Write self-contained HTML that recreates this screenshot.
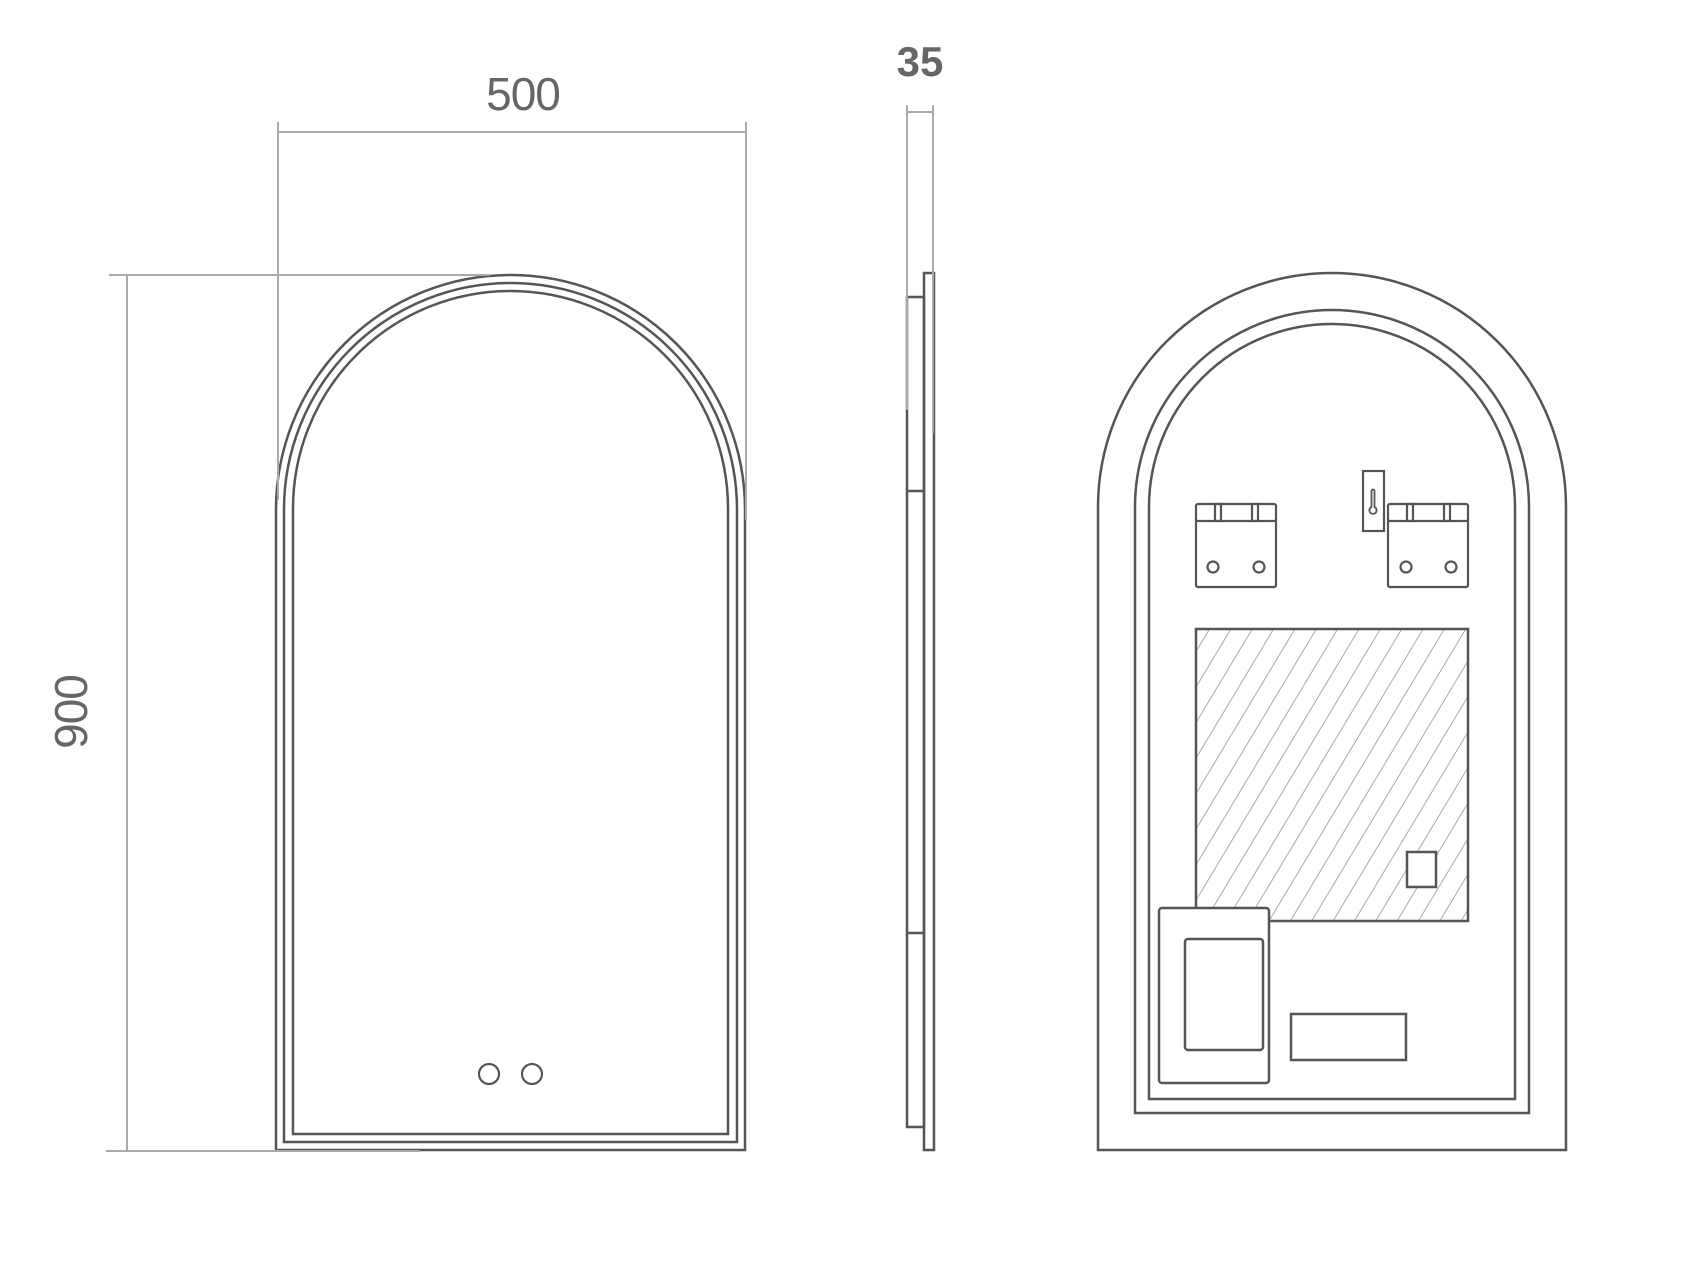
<!DOCTYPE html>
<html><head><meta charset="utf-8"><style>html,body{margin:0;padding:0;background:#fff}svg{display:block}</style></head>
<body>
<svg width="1702" height="1270" viewBox="0 0 1702 1270" xmlns="http://www.w3.org/2000/svg">
<defs>
<pattern id="h" patternUnits="userSpaceOnUse" width="18.3" height="20" patternTransform="translate(1209,629) rotate(31)">
<line x1="0" y1="-5" x2="0" y2="25" stroke="#aaa" stroke-width="2"/>
</pattern>
</defs>
<g fill="none" stroke="#555" stroke-width="2.5">
<path d="M276 1150 V509.5 A234.5 234.5 0 0 1 745 509.5 V1150 Z"/>
<path d="M284 1142 V509.5 A226.5 226.5 0 0 1 737 509.5 V1142 Z"/>
<path d="M293 1134 V508.5 A217.5 217.5 0 0 1 728 508.5 V1134 Z"/>
<circle cx="489" cy="1074" r="10" stroke-width="2.2"/>
<circle cx="532" cy="1074" r="10" stroke-width="2.2"/>
<rect x="907" y="297" width="17" height="830"/>
<rect x="924" y="273" width="10" height="877"/>
<line x1="907" y1="491" x2="924" y2="491"/>
<line x1="907" y1="933" x2="924" y2="933"/>
<path d="M1098 1150 V507 A234 234 0 0 1 1566 507 V1150 Z"/>
<path d="M1135 1113 V507 A197 197 0 0 1 1529 507 V1113 Z"/>
<path d="M1149 1099 V507 A183 183 0 0 1 1515 507 V1099 Z"/>
<rect x="1196" y="629" width="272" height="292" fill="url(#h)"/>
<rect x="1407" y="852" width="29" height="35" fill="#fff"/>
<rect x="1159" y="908" width="110" height="175" rx="3" fill="#fff"/>
<rect x="1185" y="939" width="78" height="111" rx="3"/>
<rect x="1291" y="1014" width="115" height="46"/>
<g stroke-width="2.2">
<rect x="1196" y="504" width="80" height="83" rx="2"/>
<line x1="1196" y1="521" x2="1276" y2="521"/>
<rect x="1215" y="504" width="6" height="17"/>
<rect x="1252" y="504" width="6" height="17"/>
<circle cx="1213" cy="567" r="5.5"/>
<circle cx="1259" cy="567" r="5.5"/>
<rect x="1388" y="504" width="80" height="83" rx="2"/>
<line x1="1388" y1="521" x2="1468" y2="521"/>
<rect x="1407" y="504" width="6" height="17"/>
<rect x="1444" y="504" width="6" height="17"/>
<circle cx="1406" cy="567" r="5.5"/>
<circle cx="1451" cy="567" r="5.5"/>
<rect x="1363" y="471" width="21" height="60" fill="#fff"/>
<path d="M1371.5 507 V491 a1.5 1.5 0 0 1 3 0 V507 a3.6 3.6 0 1 1 -3 0 Z" stroke-width="1.8"/>
</g>
</g>
<g stroke="#aaa" stroke-width="2" fill="none">
<line x1="278" y1="122" x2="278" y2="500"/>
<line x1="746" y1="122" x2="746" y2="520"/>
<line x1="278" y1="132" x2="746" y2="132"/>
<line x1="109" y1="275" x2="490" y2="275"/>
<line x1="106" y1="1151" x2="420" y2="1151"/>
<line x1="127" y1="275" x2="127" y2="1151"/>
<line x1="907" y1="105" x2="907" y2="410"/>
<line x1="933" y1="105" x2="933" y2="433"/>
<line x1="907" y1="112" x2="933" y2="112"/>
</g>
<g font-family="Liberation Sans, sans-serif" fill="#666">
<text x="523" y="110" font-size="46" text-anchor="middle" letter-spacing="-1">500</text>
<text x="0" y="0" font-size="46" text-anchor="middle" letter-spacing="-1" transform="translate(87,712) rotate(-90)">900</text>
<text x="920" y="76" font-size="42" font-weight="bold" text-anchor="middle" letter-spacing="0">35</text>
</g>
</svg>
</body></html>
